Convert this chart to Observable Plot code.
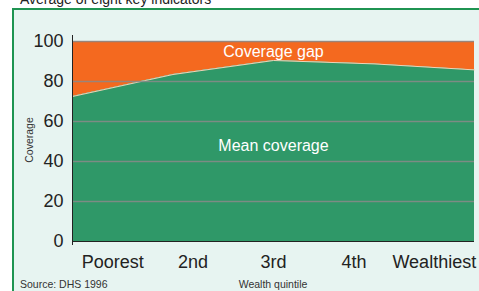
<!DOCTYPE html>
<html>
<head>
<meta charset="utf-8">
<script src="https://cdn.jsdelivr.net/npm/d3@7"></script>
<script src="https://cdn.jsdelivr.net/npm/@observablehq/plot@0.6"></script>
<style>
  html, body { margin: 0; padding: 0; background: #ffffff; overflow: hidden; }
  #wrap { position: relative; width: 479px; height: 291px; overflow: hidden; font-family: "Liberation Sans", Arial, sans-serif; }
  #panel { position: absolute; left: 12px; top: 8px; width: 467px; height: 283px; background: #e7f4f1; border-left: 2px solid #1f9452; border-top: 2px solid #1f9452; box-sizing: border-box; }
  #title { position: absolute; left: 20px; top: -9px; font-size: 14px; color: #222; white-space: nowrap; }
  #chart { position: absolute; left: 0; top: 0; }
  .small { position: absolute; font-size: 10.5px; color: #333; white-space: nowrap; }
  #source { left: 20px; top: 278px; }
  #xlabel { left: 273px; top: 278px; transform: translateX(-50%); }
  #ylabel { left: 29px; top: 140px; transform: translate(-50%, -50%) rotate(-90deg); }
</style>
</head>
<body>
<div id="wrap">
  <div id="panel"></div>
  <div id="title">Average of eight key indicators</div>
  <div id="chart"></div>
  <div class="small" id="source">Source: DHS 1996</div>
  <div class="small" id="xlabel">Wealth quintile</div>
  <div class="small" id="ylabel">Coverage</div>
</div>
<script>
const quintiles = ["Poorest", "2nd", "3rd", "4th", "Wealthiest"];
const meanCoverage = [72.5, 83.5, 90.5, 88.8, 85.8];
const yTicks = [0, 20, 40, 60, 80, 100];
const gridTicks = [20, 40, 60, 80, 100];
const areaLabels = ["Coverage gap", "Mean coverage"];
const areaLabelY = [95, 48];

const data = quintiles.map((q, i) => ({i, q, mean: meanCoverage[i]}));
const labelPos = quintiles.map((q, i) => (i + 0.5) * 0.8);

const chart = Plot.plot({
  width: 479,
  height: 291,
  marginLeft: 72,
  marginRight: 5,
  marginTop: 41,
  marginBottom: 50,
  style: {background: "transparent", fontFamily: "Liberation Sans, Arial, sans-serif"},
  x: {type: "linear", domain: [0, 4], axis: null},
  y: {domain: [0, 100], axis: null},
  marks: [
    Plot.areaY(data, {x: "i", y1: "mean", y2: 100, fill: "#f4691f"}),
    Plot.areaY(data, {x: "i", y1: 0, y2: "mean", fill: "#2f9868"}),
    Plot.lineY(data, {x: "i", y: "mean", stroke: "#f3d2b5", strokeWidth: 1}),
    Plot.ruleY(gridTicks, {x1: 0, x2: 4, stroke: "#8a8a8a", strokeWidth: 1.5, strokeOpacity: 0.85}),
    Plot.ruleY([0], {x1: 0, x2: 4, stroke: "#222", strokeWidth: 1}),
    Plot.ruleX([0], {y1: -2, y2: 103, stroke: "#222", strokeWidth: 1}),
    Plot.axisY(yTicks, {tickSize: 0, tickPadding: 9, fontSize: 18, color: "#222", label: null}),
    Plot.axisX(labelPos, {tickSize: 0, tickPadding: 14, fontSize: 18, color: "#222", label: null,
      tickFormat: (d) => quintiles[Math.round(d / 0.8 - 0.5)]}),
    Plot.text(areaLabels, {x: 2, y: (d, i) => areaLabelY[i], text: (d) => d, fill: "white", fontSize: 16})
  ]
});
document.getElementById("chart").appendChild(chart);
</script>
</body>
</html>
